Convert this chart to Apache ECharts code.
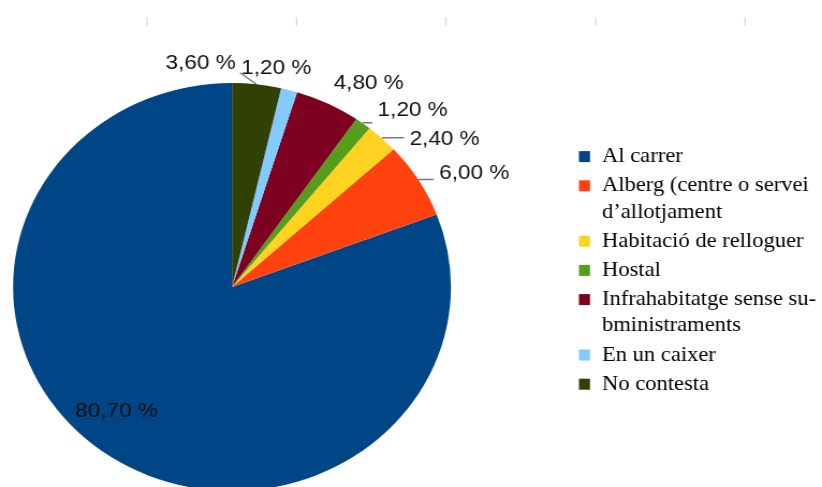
<!DOCTYPE html>
<html><head><meta charset="utf-8">
<script src="https://cdn.jsdelivr.net/npm/echarts@6/dist/echarts.min.js"></script>
<style>
html,body{margin:0;padding:0;background:#fff;overflow:hidden;}
#wrap{width:822px;height:487px;overflow:hidden;position:relative;}
#chart{width:766px;height:487px;transform-origin:0 0;transform:scaleX(1.07311);}
</style></head><body><div id="wrap"><div id="chart"></div></div>
<script>
// ---- data ----
const categories = [
  'Al carrer',
  'Alberg (centre o servei d’allotjament',
  'Habitació de relloguer',
  'Hostal',
  'Infrahabitatge sense subministraments',
  'En un caixer',
  'No contesta'
];
const legendLines = [
  ['Al carrer'],
  ['Alberg (centre o servei', 'd’allotjament'],
  ['Habitació de relloguer'],
  ['Hostal'],
  ['Infrahabitatge sense su-', 'bministraments'],
  ['En un caixer'],
  ['No contesta']
];
const values = [80.7, 6.0, 2.4, 1.2, 4.8, 1.2, 3.6];
const colors = ['#004586', '#ff420e', '#ffd320', '#579d1c', '#7e0021', '#83caff', '#314004'];

// ---- layout / style config ----
const S = 822 / 766;           // horizontal stretch of the whole picture
const CX = 232 / S, CY = 287, R = 204;
const labelTweaks = [
  {inside: true, len2: 0, line: false, dx: -48, dy: 38},
  {len2: 13.5, line: true, dx: 0, dy: -6},
  {len2: 20, line: true, dx: 0, dy: 2},
  {len2: 8, line: true, dx: 0, dy: -13},
  {len2: 0, line: false, dx: 0, dy: -19},
  {len2: 0, line: true, dx: -50, dy: -21, cornerLine: 15},
  {len2: 0, line: false, dx: -90, dy: -20}
];
const tickScreenX = [147, 296.5, 446, 595.5, 745];

const LH = 26.2;
const rich = {
  t: {fontFamily: 'Liberation Serif', fontSize: 21, lineHeight: LH, color: '#000'},
  g: {width: 11.2, height: 11, lineHeight: LH},
  sp: {width: 21.5, height: 11, lineHeight: LH}
};
colors.forEach((c, i) => { rich['b' + i] = {width: 10.3, height: 11, lineHeight: LH, backgroundColor: c}; });

const fmt = v => v.toFixed(2).replace('.', ',') + ' %';

const chart = echarts.init(document.getElementById('chart'), null, {renderer: 'canvas'});
chart.setOption({
  animation: false,
  backgroundColor: '#fff',
  legend: {
    orient: 'vertical',
    left: 534.5,
    top: 143.5,
    padding: 0,
    itemGap: 3,
    itemWidth: 0,
    itemHeight: 0,
    selectedMode: false,
    data: categories,
    formatter: name => {
      const i = categories.indexOf(name);
      const lines = legendLines[i];
      return lines.map((ln, k) => (k === 0 ? '{b' + i + '|}{g|}' : '{sp|}') + '{t|' + ln + '}').join('\n');
    },
    textStyle: {rich: rich, fontFamily: 'Liberation Serif', fontSize: 21, lineHeight: LH}
  },
  graphic: tickScreenX.map(x => ({
    type: 'line', silent: true,
    shape: {x1: x / S, y1: 17, x2: x / S, y2: 26},
    style: {stroke: '#cfcfcf', lineWidth: 1}
  })),
  series: [{
    type: 'pie',
    center: [CX, CY],
    radius: R,
    startAngle: 90,
    clockwise: false,
    avoidLabelOverlap: false,
    label: {
      show: true,
      position: 'outside',
      fontFamily: 'Liberation Sans',
      fontSize: 21,
      color: '#111',
      distanceToLabelLine: 5,
      formatter: p => fmt(p.value)
    },
    labelLine: {
      show: true, length: 1, length2: 10, smooth: false,
      lineStyle: {color: '#7a7a7a', width: 1.5}
    },
    labelLayout: p => {
      const t = labelTweaks[p.dataIndex];
      const o = {dx: t.dx, dy: t.dy, hideOverlap: false};
      if (t.cornerLine && p.labelRect) {
        // short leader from the label's lower-left corner down to the rim
        const sx = p.labelRect.x + t.dx - 1;
        const sy = p.labelRect.y + t.dy + p.labelRect.height * 0.72;
        const ex = sx + t.cornerLine;
        const ey = CY - Math.sqrt(R * R - (ex - CX) * (ex - CX));
        o.labelLinePoints = [[ex, ey], [sx, sy]];
      } else if (p.labelLinePoints) {
        o.labelLinePoints = p.labelLinePoints;
      }
      return o;
    },
    itemStyle: {borderWidth: 0},
    emphasis: {disabled: true},
    data: categories.map((n, i) => {
      const t = labelTweaks[i];
      return {
        name: n,
        value: values[i],
        itemStyle: {color: colors[i]},
        label: {position: t.inside ? 'inside' : 'outside'},
        labelLine: {show: t.line, length2: t.len2}
      };
    })
  }]
});
</script></body></html>
